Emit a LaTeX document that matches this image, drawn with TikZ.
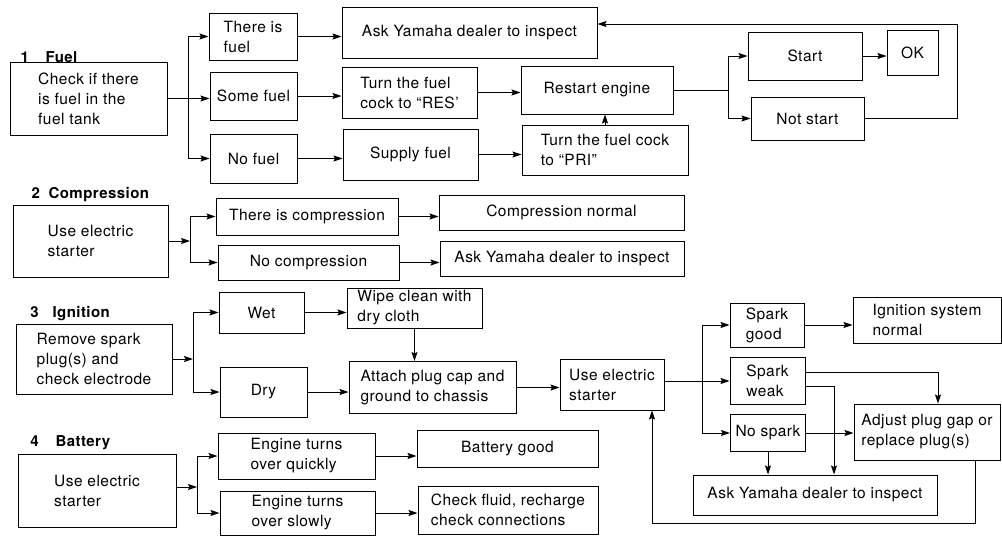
\documentclass[tikz,border=0pt]{standalone}
\usepackage{fontspec}
\newfontfamily\chartfont{TeX Gyre Heros}[Ligatures=TeX,LetterSpace=3]
\usetikzlibrary{arrows.meta}

\begin{document}
\begin{tikzpicture}[
    x=1pt, y=-1pt,
    line width=1pt,
    flow/.style={draw,-{Stealth[length=9pt,width=6pt,inset=1.5pt]}},
    box/.style={draw,align=left,inner sep=2pt,font=\chartfont\fontsize{15.5}{20}\selectfont},
    head/.style={anchor=base west,inner sep=0pt,font=\chartfont\fontsize{15}{18}\selectfont\bfseries}
]
\useasboundingbox (0,0) rectangle (1002,536);

\node[head] (fuelhead) at (20,62) {1\hspace{16.7pt}Fuel};
\node[box,minimum width=157pt,minimum height=73pt] (fuelchk) at (88.5,98.5) {Check if there\\is fuel in the\\fuel tank};
\node[box,minimum width=88pt,minimum height=47pt] (isfuel) at (253,36.5) {There is\\fuel};
\node[box,minimum width=87pt,minimum height=48pt] (somefuel) at (253.5,96) {Some fuel};
\node[box,minimum width=87pt,minimum height=49pt] (nofuel) at (253.5,158.5) {No fuel};
\node[box,minimum width=255pt,minimum height=51pt] (dealerA) at (469.5,32.5) {Ask Yamaha dealer to inspect};
\node[box,minimum width=135pt,minimum height=51pt] (rescock) at (409.5,92.5) {Turn the fuel\\cock to ``RES'};
\node[box,minimum width=152pt,minimum height=48pt] (restart) at (597,90) {Restart engine};
\node[box,minimum width=135pt,minimum height=51pt] (supply) at (410.5,154.5) {Supply fuel};
\node[box,minimum width=166pt,minimum height=50pt] (pricock) at (605,150) {Turn the fuel cock\\to ``PRI''};
\node[box,minimum width=114pt,minimum height=48pt] (start) at (805,56) {Start};
\node[box,minimum width=51pt,minimum height=45pt] (ok) at (912.5,52.5) {OK};
\node[box,minimum width=113pt,minimum height=43pt] (notstart) at (807.5,118.5) {Not start};

\coordinate (fuelfork) at (188,98.5);
\coordinate (restartfork) at (728,90);
\coordinate (retry) at (957,24);
\draw[flow] (fuelchk.east) -- (fuelchk.east -| somefuel.west);
\draw[flow] (fuelfork) |- (isfuel.west);
\draw[flow] (fuelfork) |- (nofuel.west);
\draw[flow] (isfuel.east) -- (isfuel.east -| dealerA.west);
\draw[flow] (somefuel.east) -- (somefuel.east -| rescock.west);
\draw[flow] (nofuel.east) -- (nofuel.east -| supply.west);
\draw[flow] (rescock.east) -- (rescock.east -| restart.west);
\draw[flow] (supply.east) -- (supply.east -| pricock.west);
\draw[flow] (pricock.north) -- (pricock.north |- restart.south);
\draw (restart.east) -- (restartfork);
\draw[flow] (restartfork) |- (start.west);
\draw[flow] (restartfork) |- (notstart.west);
\draw[flow] (start.east) -- (start.east -| ok.west);
\draw[flow] (notstart.east) -| (retry) -- (retry -| dealerA.east);

\node[head] (comphead) at (31,198) {2\hspace{8.7pt}Compression};
\node[box,minimum width=155pt,minimum height=72pt] (compuse) at (90.5,241) {Use electric\\starter};
\node[box,minimum width=182pt,minimum height=37pt] (iscomp) at (307,216.5) {There is compression};
\node[box,minimum width=181pt,minimum height=35pt] (nocomp) at (308.5,262.5) {No compression};
\node[box,minimum width=245pt,minimum height=35pt] (compok) at (561.5,212.5) {Compression normal};
\node[box,minimum width=244pt,minimum height=35pt] (dealerB) at (562,259) {Ask Yamaha dealer to inspect};

\coordinate (compfork) at (190,241);
\draw[flow] (compuse.east) -- (compfork);
\draw[flow] (compfork) |- (iscomp.west);
\draw[flow] (compfork) |- (nocomp.west);
\draw[flow] (iscomp.east) -- (iscomp.east -| compok.west);
\draw[flow] (nocomp.east) -- (nocomp.east -| dealerB.west);

\node[head] (ignhead) at (30,317) {3\hspace{13.7pt}Ignition};
\node[box,minimum width=156pt,minimum height=70pt] (plugchk) at (94,359) {Remove spark\\plug(s) and\\check electrode};
\node[box,minimum width=85pt,minimum height=41pt] (wet) at (261.5,312.5) {Wet};
\node[box,minimum width=87pt,minimum height=50pt] (dry) at (263.5,392) {Dry};
\node[box,minimum width=135pt,minimum height=40pt] (wipe) at (414.5,308) {Wipe clean with\\dry cloth};
\node[box,minimum width=167pt,minimum height=52pt] (attach) at (432.5,387.5) {Attach plug cap and\\ground to chassis};
\node[box,minimum width=104pt,minimum height=51pt] (sparkuse) at (612,384.5) {Use electric\\starter};
\node[box,minimum width=74pt,minimum height=44pt] (sparkgood) at (767,325) {Spark\\good};
\node[box,minimum width=75pt,minimum height=47pt] (sparkweak) at (767.5,381) {Spark\\weak};
\node[box,minimum width=75pt,minimum height=37pt] (nospark) at (768,433) {No spark};
\node[box,minimum width=148pt,minimum height=46pt] (ignok) at (927,320) {Ignition system\\normal};
\node[box,minimum width=146pt,minimum height=56pt] (adjust) at (927,432) {Adjust plug gap or\\replace plug(s)};
\node[box,minimum width=244pt,minimum height=40pt] (dealerC) at (815,495) {Ask Yamaha dealer to inspect};

\coordinate (plugfork) at (193,359);
\coordinate (sparkfork) at (702,381);
\coordinate (recheck) at (652,523);
\draw[flow] (plugchk.east) -- (plugfork);
\draw[flow] (plugfork) |- (wet.west);
\draw[flow] (plugfork) |- (dry.west);
\draw[flow] (wet.east) -- (wet.east -| wipe.west);
\draw[flow] (wipe.south) -- (wipe.south |- attach.north);
\draw[flow] (dry.east) -- (dry.east -| attach.west);
\draw[flow] (attach.east) -- (attach.east -| sparkuse.west);
\draw[flow] (sparkuse.east |- sparkweak.west) -- (sparkweak.west);
\draw[flow] (sparkfork) |- (sparkgood.west);
\draw[flow] (sparkfork) |- (nospark.west);
\draw[flow] (sparkgood.east) -- (sparkgood.east -| ignok.west);
\draw[flow] ([yshift=9pt]sparkweak.east) -| ([xshift=11pt]adjust.north);
\draw[flow] ([yshift=-5pt]sparkweak.east) -| ([xshift=19pt]dealerC.north);
\draw[flow] (nospark.east) -- (nospark.east -| adjust.west);
\draw[flow] (nospark.south) -- (nospark.south |- dealerC.north);
\draw[flow] ([xshift=48pt]adjust.south) |- (recheck) -- (recheck |- sparkuse.south);

\node[head] (batthead) at (30,446) {4\hspace{16.7pt}Battery};
\node[box,minimum width=158pt,minimum height=73pt] (battuse) at (97,490.5) {Use electric\\starter};
\node[box,minimum width=157pt,minimum height=46pt] (quick) at (296.5,456) {Engine turns\\over quickly};
\node[box,minimum width=155pt,minimum height=44pt] (slow) at (297.5,513) {Engine turns\\over slowly};
\node[box,minimum width=181pt,minimum height=37pt] (battok) at (507.5,448.5) {Battery good};
\node[box,minimum width=180pt,minimum height=48pt] (fluid) at (508,510) {Check fluid, recharge\\check connections};

\coordinate (battfork) at (197,487);
\draw[flow] (battuse.east |- battfork) -- (battfork);
\draw[flow] (battfork) |- (quick.west);
\draw[flow] (battfork) |- (slow.west);
\draw[flow] (quick.east) -- (quick.east -| battok.west);
\draw[flow] (slow.east) -- (slow.east -| fluid.west);

\end{tikzpicture}
\end{document}
